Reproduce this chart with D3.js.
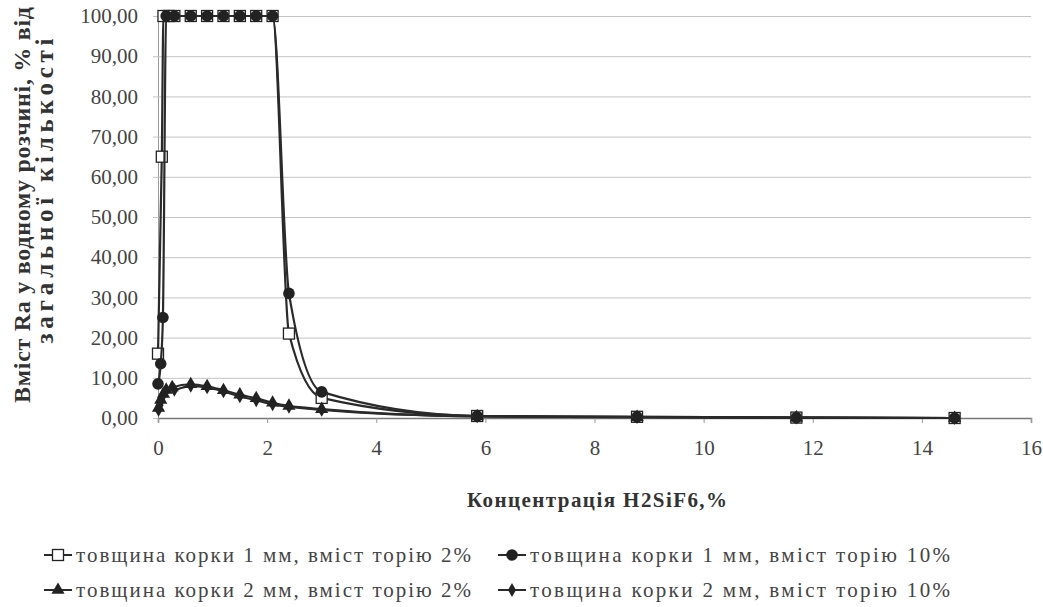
<!DOCTYPE html>
<html>
<head>
<meta charset="utf-8">
<script src="https://cdn.jsdelivr.net/npm/d3@7"></script>
</head>
<body style="margin:0; background:#fff">
<div id="chart"></div>
<script>
// Data
const xTicks = [0, 2, 4, 6, 8, 10, 12, 14, 16];
const yTicks = [0, 10, 20, 30, 40, 50, 60, 70, 80, 90, 100];

const s1x = [0.0, 0.07, 0.1, 0.2, 0.3, 0.6, 0.9, 1.2, 1.5, 1.8, 2.1, 2.4, 3.0, 5.85, 8.78, 11.7, 14.6];
const s1y = [16.0, 65.0, 100, 100, 100, 100, 100, 100, 100, 100, 100, 21.0, 5.0, 0.5, 0.3, 0.1, 0.0];

const s2x = [0.0, 0.05, 0.09, 0.15, 0.3, 0.6, 0.9, 1.2, 1.5, 1.8, 2.1, 2.4, 3.0, 5.85, 8.78, 11.7, 14.6];
const s2y = [8.5, 13.5, 25.0, 100, 100, 100, 100, 100, 100, 100, 100, 31.0, 6.5, 0.5, 0.3, 0.1, 0.0];

const s3x = [0.01, 0.05, 0.1, 0.15, 0.26, 0.6, 0.9, 1.2, 1.5, 1.8, 2.1, 2.4, 3.0, 5.85, 8.78, 11.7, 14.6];
const s3y = [2.5, 4.5, 6.0, 7.0, 7.6, 8.4, 7.9, 6.9, 5.8, 4.9, 3.8, 3.0, 2.2, 0.4, 0.2, 0.1, 0.0];

const s4x = [0.01, 0.03, 0.06, 0.1, 0.15, 0.3, 0.6, 0.9, 1.2, 1.5, 1.8, 2.1, 2.4, 3.0, 5.85, 8.78, 11.7, 14.6];
const s4y = [2.0, 3.2, 4.5, 5.8, 6.8, 7.0, 8.0, 7.6, 6.6, 5.4, 4.4, 3.4, 2.8, 2.0, 0.4, 0.2, 0.1, 0.0];

const seriesNames = [
  "товщина корки 1 мм, вміст торію 2%",
  "товщина корки 1 мм, вміст торію 10%",
  "товщина корки 2 мм, вміст торію 2%",
  "товщина корки 2 мм, вміст торію 10%"
];
const seriesMarks = ["square", "circle", "triangle", "diamond"];

const series = [
  {name: seriesNames[0], mark: seriesMarks[0], pts: s1x.map((x, i) => [x, s1y[i]])},
  {name: seriesNames[1], mark: seriesMarks[1], pts: s2x.map((x, i) => [x, s2y[i]])},
  {name: seriesNames[2], mark: seriesMarks[2], pts: s3x.map((x, i) => [x, s3y[i]])},
  {name: seriesNames[3], mark: seriesMarks[3], pts: s4x.map((x, i) => [x, s4y[i]])}
];

const FONT = "Liberation Serif";

// Set up the dimensions
const W = 1043, H = 607;
const plot = {left: 158, right: 1031, top: 16, bottom: 418};

const svg = d3.select("#chart").append("svg")
    .attr("width", W)
    .attr("height", H)
    .attr("font-family", FONT);

// Scales
const x = d3.scaleLinear().domain([0, 16]).range([plot.left, plot.right]);
const y = d3.scaleLinear().domain([0, 100]).range([plot.bottom, plot.top]);

// Gridlines + y axis
const yAxis = svg.append("g")
    .attr("transform", `translate(${plot.left},0)`)
    .call(d3.axisLeft(y)
        .tickValues(yTicks)
        .tickSize(-(plot.right - plot.left))
        .tickPadding(20)
        .tickFormat(d => d3.format(".2f")(d).replace(".", ",")));
yAxis.attr("font-family", FONT);
yAxis.select(".domain").attr("stroke", "#999");
yAxis.selectAll(".tick line").attr("stroke", "#c4c4c4").attr("x1", -5);
yAxis.selectAll(".tick text")
    .attr("font-family", FONT)
    .attr("font-size", 21)
    .attr("fill", "#444");

// x axis
const xAxis = svg.append("g")
    .attr("transform", `translate(0,${plot.bottom})`)
    .call(d3.axisBottom(x).tickValues(xTicks).tickSize(5).tickPadding(17));
xAxis.attr("font-family", FONT);
xAxis.select(".domain").attr("stroke", "#777").attr("stroke-width", 1.5);
xAxis.selectAll(".tick line").attr("stroke", "#999");
xAxis.selectAll(".tick text")
    .attr("font-family", FONT)
    .attr("font-size", 21)
    .attr("fill", "#444");

// Axis titles
svg.append("text")
    .attr("text-anchor", "middle")
    .attr("transform", "translate(30,205) rotate(-90)")
    .attr("font-family", FONT)
    .attr("font-size", 24)
    .attr("font-weight", "bold")
    .attr("fill", "#333")
    .attr("textLength", 396)
    .attr("lengthAdjust", "spacing")
    .text("Вміст Ra у водному розчині, % від");
svg.append("text")
    .attr("text-anchor", "middle")
    .attr("transform", "translate(53,191) rotate(-90)")
    .attr("font-family", FONT)
    .attr("font-size", 25)
    .attr("font-weight", "bold")
    .attr("fill", "#333")
    .attr("textLength", 305)
    .attr("lengthAdjust", "spacing")
    .text("загальної кількості");

svg.append("text")
    .attr("text-anchor", "middle")
    .attr("x", 597)
    .attr("y", 507)
    .attr("font-family", FONT)
    .attr("font-size", 21)
    .attr("font-weight", "bold")
    .attr("fill", "#333")
    .attr("textLength", 260)
    .attr("lengthAdjust", "spacing")
    .text("Концентрація H2SiF6,%");

// Markers
function drawMark(g, type, cx, cy) {
  if (type === "square") {
    g.append("rect").attr("x", cx - 5.5).attr("y", cy - 5.5).attr("width", 11).attr("height", 11)
      .attr("fill", "#fff").attr("stroke", "#222").attr("stroke-width", 1.3);
  } else if (type === "circle") {
    g.append("circle").attr("cx", cx).attr("cy", cy).attr("r", 5.8).attr("fill", "#222");
  } else if (type === "triangle") {
    g.append("path").attr("transform", `translate(${cx},${cy})`)
      .attr("d", d3.symbol(d3.symbolTriangle, 75)()).attr("fill", "#222");
  } else {
    g.append("path").attr("transform", `translate(${cx},${cy})`)
      .attr("d", d3.symbol(d3.symbolDiamond, 55)()).attr("fill", "#222");
  }
}

const line = d3.line()
    .x(d => x(d[0]))
    .y(d => y(d[1]))
    .curve(d3.curveMonotoneX);

series.forEach(s => {
  const g = svg.append("g");
  g.append("path")
      .datum(s.pts)
      .attr("fill", "none")
      .attr("stroke", "#2a2a2a")
      .attr("stroke-width", 2.2)
      .attr("d", line);
  s.pts.forEach(p => drawMark(g, s.mark, x(p[0]), y(p[1])));
});

// Legend
const legendPos = [[44, 555], [498, 555], [44, 590], [498, 590]];
const legendLen = [395, 420, 395, 420];
series.forEach((s, i) => {
  const g = svg.append("g").attr("transform", `translate(${legendPos[i][0]},${legendPos[i][1]})`);
  g.append("line").attr("x1", 0).attr("x2", 28).attr("y1", 0).attr("y2", 0)
      .attr("stroke", "#2a2a2a").attr("stroke-width", 2);
  drawMark(g, s.mark, 14, 0);
  g.append("text")
      .attr("x", 32)
      .attr("y", 7)
      .attr("font-family", FONT)
      .attr("font-size", 21)
      .attr("fill", "#444")
      .attr("textLength", legendLen[i])
      .attr("lengthAdjust", "spacing")
      .text(s.name);
});
</script>
</body>
</html>
